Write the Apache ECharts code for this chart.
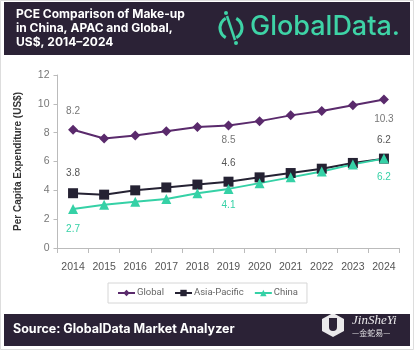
<!DOCTYPE html>
<html>
<head>
<meta charset="utf-8">
<script src="https://cdn.jsdelivr.net/npm/echarts@6/dist/echarts.min.js"></script>
<style>
html,body{margin:0;padding:0;background:#fff;}
#main{width:414px;height:350px;}
</style>
</head>
<body>
<div id="main"></div>
<script>
var years = ['2014','2015','2016','2017','2018','2019','2020','2021','2022','2023','2024'];
var globalVals = [8.2, 7.6, 7.8, 8.1, 8.4, 8.5, 8.8, 9.2, 9.5, 9.9, 10.3];
var apacVals = [3.8, 3.7, 4.0, 4.2, 4.4, 4.6, 4.9, 5.2, 5.5, 5.9, 6.2];
var chinaVals = [2.7, 3.0, 3.2, 3.4, 3.8, 4.1, 4.5, 4.9, 5.3, 5.8, 6.2];
var yTicks = [0, 2, 4, 6, 8, 10, 12];
var labelIdx = [0, 5, 10];

// 只给首尾和2019标数值
function withLabels(vals, pos, color) {
	var out = [];
	for (var i = 0; i < vals.length; i++) {
		var k = labelIdx.indexOf(i);
		if (k >= 0) {
			out.push({
				value: vals[i],
				label: {show: true, position: pos[k].p, distance: pos[k].d, color: color, fontSize: 10, fontFamily: 'Liberation Sans'}
			});
		} else {
			out.push(vals[i]);
		}
	}
	return out;
}

var myChart = echarts.init(document.getElementById('main'));
var option = {
	animation: false,
	backgroundColor: '#fff',
	grid: {left: 57.5, right: 14.5, top: 75, bottom: 102},
	legend: {
		left: 108, top: 283,
		padding: [5, 9, 5, 9],
		borderColor: '#d6d6d6', borderWidth: 1,
		itemWidth: 17, itemHeight: 8, itemGap: 10,
		textStyle: {color: '#666', fontSize: 9.5, fontFamily: 'Roboto', padding: [0, 0, 0, -3]},
		data: ['Global', 'Asia-Pacific', 'China']
	},
	xAxis: {
		type: 'category',
		data: years,
		boundaryGap: true,
		axisLine: {lineStyle: {color: '#bbb'}},
		axisTick: {show: true, length: 5, lineStyle: {color: '#bbb'}},
		axisLabel: {color: '#555', fontSize: 10.5, margin: 14, fontFamily: 'Liberation Sans'}
	},
	yAxis: {
		type: 'value',
		min: yTicks[0], max: yTicks[yTicks.length - 1], interval: 2,
		name: 'Per Capita Expenditure (US$)',
		nameLocation: 'middle',
		nameGap: 34,
		nameTextStyle: {color: '#333', fontSize: 10, fontWeight: 'bold', fontFamily: 'Liberation Sans'},
		axisLine: {show: true, lineStyle: {color: '#bbb'}},
		axisTick: {show: true, length: 4, lineStyle: {color: '#bbb'}},
		splitLine: {show: false},
		axisLabel: {color: '#777', fontSize: 10.5, margin: 8, fontFamily: 'Liberation Sans'}
	},
	series: [
		{
			name: 'Global', type: 'line',
			symbol: 'diamond', symbolSize: 10,
			color: '#5a2a6c',
			lineStyle: {width: 2},
			data: withLabels(globalVals, [{p: 'top', d: 9}, {p: 'bottom', d: 5}, {p: 'bottom', d: 10}], '#777')
		},
		{
			name: 'Asia-Pacific', type: 'line',
			symbol: 'rect', symbolSize: 10,
			color: '#252233',
			lineStyle: {width: 2},
			data: withLabels(apacVals, [{p: 'top', d: 10}, {p: 'top', d: 8}, {p: 'top', d: 8}], '#555')
		},
		{
			name: 'China', type: 'line',
			symbol: 'triangle', symbolSize: 10,
			color: '#35d1a6',
			lineStyle: {width: 2},
			data: withLabels(chinaVals, [{p: 'bottom', d: 10}, {p: 'bottom', d: 6}, {p: 'bottom', d: 9}], '#35d1a6')
		}
	],
	graphic: [
		{type: 'rect', shape: {x: 0.5, y: 0.5, width: 413, height: 349}, style: {fill: 'none', stroke: '#ddd'}},
		{type: 'rect', shape: {x: 4, y: 2, width: 406, height: 53}, style: {fill: '#2b2236'}},
		{type: 'text', left: 16, top: 7, style: {text: 'PCE Comparison of Make-up\nin China, APAC and Global,\nUS$, 2014\u20132024', fill: '#fff', font: 'bold 12px Inter, sans-serif', lineHeight: 14}},
		// GlobalData 标志
		{type: 'arc', shape: {cx: 231, cy: 28, r: 11, startAngle: -Math.PI / 2 + 0.5, endAngle: Math.PI / 2 - 0.5}, style: {stroke: '#3ed3a6', lineWidth: 3, fill: 'none'}},
		{type: 'arc', shape: {cx: 231, cy: 28, r: 11, startAngle: Math.PI / 2 + 0.5, endAngle: Math.PI * 1.5 - 0.5}, style: {stroke: '#3ed3a6', lineWidth: 3, fill: 'none'}},
		{type: 'line', shape: {x1: 227, y1: 16, x2: 235, y2: 40}, style: {stroke: '#3ed3a6', lineWidth: 2.5}},
		{type: 'circle', shape: {cx: 226, cy: 13, r: 2}, style: {fill: '#3ed3a6'}},
		{type: 'circle', shape: {cx: 236, cy: 43, r: 2}, style: {fill: '#3ed3a6'}},
		{type: 'text', left: 250, top: 13, style: {text: 'GlobalData.', fill: '#3ed3a6', font: '500 27px Inter, sans-serif'}},
		// 底部来源栏
		{type: 'rect', shape: {x: 4, y: 314, width: 406, height: 32}, style: {fill: '#2b2236'}},
		{type: 'text', left: 13, top: 323, style: {text: 'Source: GlobalData Market Analyzer', fill: '#fff', font: 'bold 12.5px Inter, sans-serif'}},
		// 水印
		{type: 'polygon', shape: {points: [[333, 313], [344, 319], [344, 331], [333, 337], [322, 331], [322, 319]]}, style: {fill: '#fff', opacity: 0.9}},
		{type: 'rect', shape: {x: 329, y: 318, width: 8, height: 13, r: [0, 0, 4, 4]}, style: {fill: '#2b2236'}},
		{type: 'text', left: 352, top: 314, style: {text: 'JinSheYi', fill: '#fff', opacity: 0.9, font: 'italic 13px "Liberation Serif", serif'}},
		{type: 'text', left: 352, top: 329, style: {text: '\u2014\u91d1\u86c7\u6613\u2014', fill: '#fff', opacity: 0.85, font: '8px "Noto Sans CJK SC", sans-serif'}}
	]
};
myChart.setOption(option);
</script>
</body>
</html>
